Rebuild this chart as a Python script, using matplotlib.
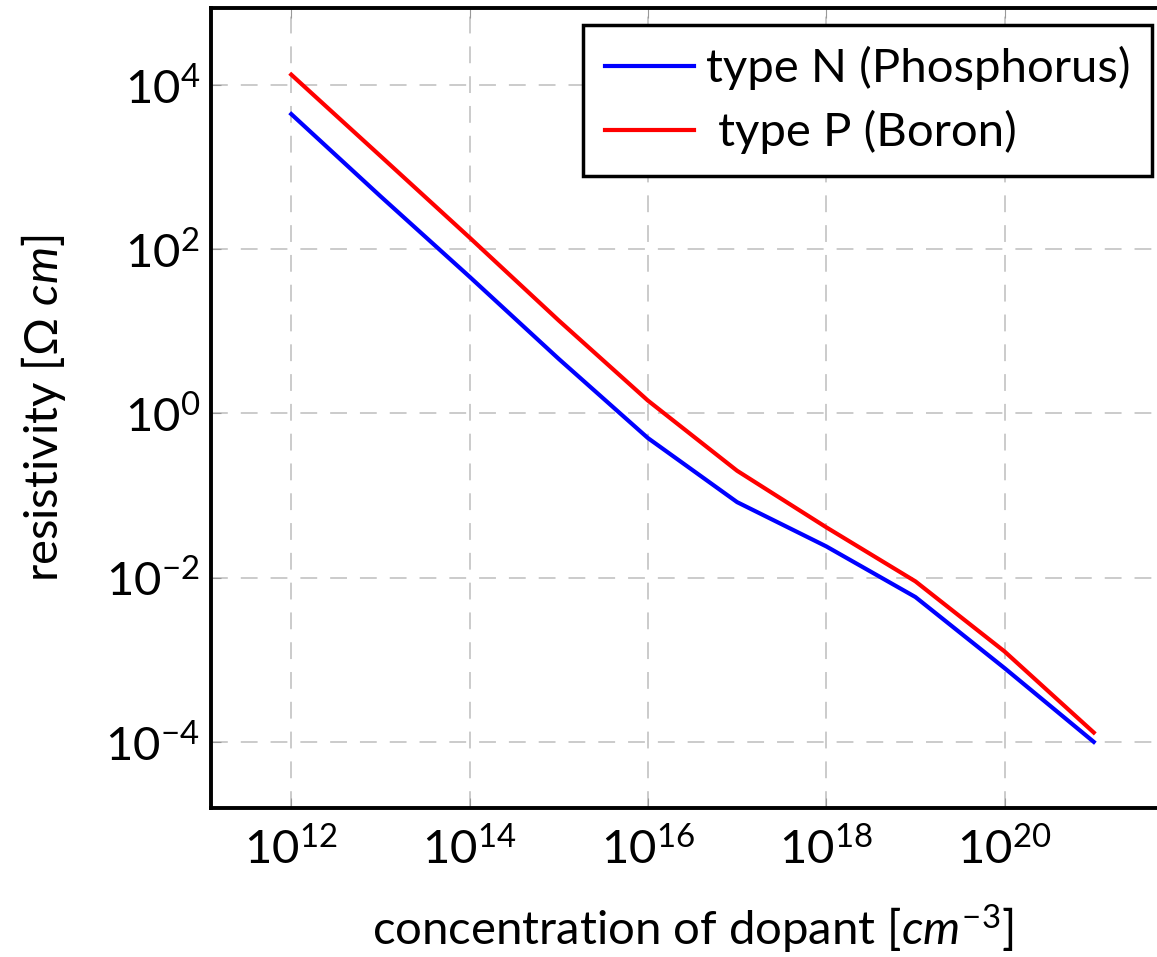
import matplotlib
matplotlib.use('Agg')
import matplotlib.pyplot as plt

# dopant concentration (cm^-3) and resistivity (Ohm cm)
conc = [1e12, 1e13, 1e14, 1e15, 1e16, 1e17, 1e18, 1e19, 1e20, 1e21]
rho_n = [4.4e3, 4.4e2, 46, 4.6, 0.50, 0.083, 0.024, 0.0058, 7.9e-4, 1.0e-4]
rho_p = [1.33e4, 1.36e3, 138, 13.5, 1.43, 0.20, 0.041, 0.0090, 1.26e-3, 1.3e-4]
labels = ['type N (Phosphorus)', ' type P (Boron)']

plt.rcParams['font.family'] = ['Lato', 'DejaVu Sans']
plt.rcParams['mathtext.fontset'] = 'custom'
plt.rcParams['mathtext.rm'] = 'Lato'
plt.rcParams['mathtext.it'] = 'Lato:italic'
plt.rcParams['font.size'] = 34

fig = plt.figure(figsize=(11.57, 9.57), dpi=100)
ax = fig.add_axes([211 / 1157, 1 - 808 / 957, (1174 - 211) / 1157, 800 / 957])

ax.plot(conc, rho_n, color='#0000ff', lw=3, label=labels[0])
ax.plot(conc, rho_p, color='#ff0000', lw=3, label=labels[1])

ax.set_xscale('log')
ax.set_yscale('log')
ax.set_xlim(10**11.1, 10**21.9)
ax.set_ylim(10**-4.805, 10**4.935)
ax.set_xticks([1e12, 1e14, 1e16, 1e18, 1e20])
ax.set_yticks([1e-4, 1e-2, 1e0, 1e2, 1e4])
ax.minorticks_off()
ax.grid(True, color='#bdbdbd', linestyle=(0, (11, 8.5)), lw=1.1)
ax.tick_params(direction='in', length=7, width=0.8, color='#999999',
               top=True, right=True, labelsize=34)
ax.tick_params(axis='x', pad=13)
ax.tick_params(axis='y', pad=8)
for s in ax.spines.values():
    s.set_linewidth(2.8)

ax.set_xlabel(r'concentration of dopant [$cm^{-3}$]', fontsize=34, labelpad=22)
ax.set_ylabel(r'resistivity [$\Omega\ cm$]', fontsize=34, labelpad=27)

leg = ax.legend(loc='upper right', bbox_to_anchor=(1152 / 1157, 1 - 25 / 957),
                bbox_transform=fig.transFigure, borderaxespad=0, fancybox=False,
                framealpha=1, edgecolor='black', fontsize=34, handlelength=1.9,
                handletextpad=0.25, labelspacing=0.42, borderpad=0.45)
leg.get_frame().set_linewidth(2.5)

plt.savefig('out.png', dpi=100)
